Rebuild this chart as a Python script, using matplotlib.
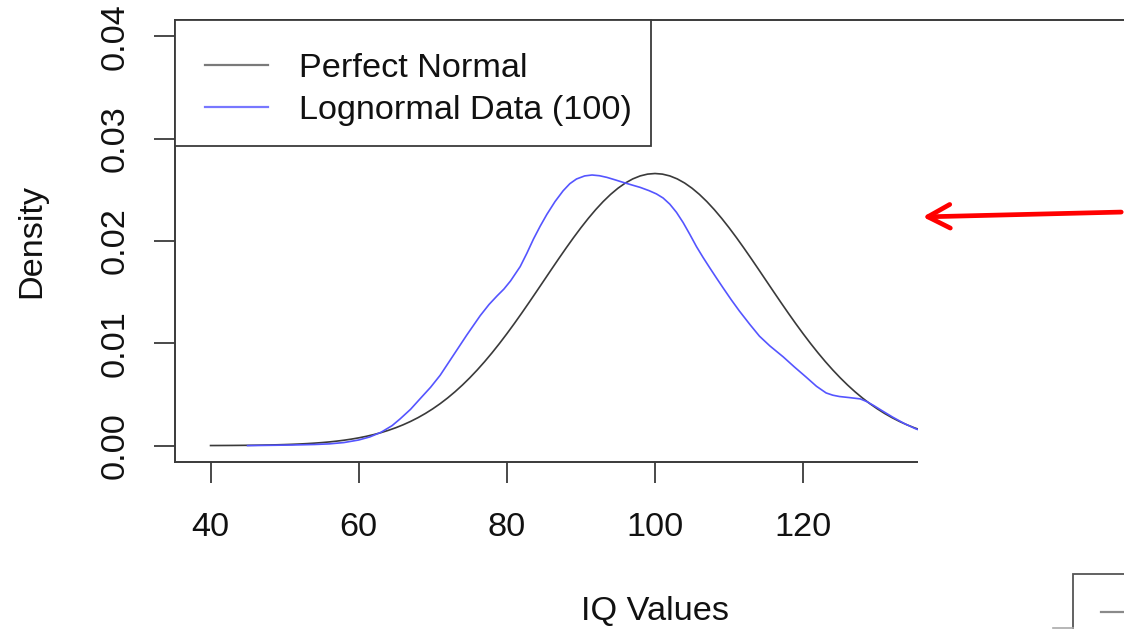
import matplotlib
matplotlib.use("Agg")
import matplotlib.pyplot as plt
from matplotlib.patches import Rectangle, FancyArrowPatch
from matplotlib.lines import Line2D

plt.rcParams['font.family'] = ['Liberation Sans', 'DejaVu Sans']

# Theoretical normal density (mean 100, sd 15): x = 40..160 in steps of 1.
# Left half tabulated (40..100); the right half mirrors it.
normal_x = list(range(40, 161))
normal_left = [
    8.92e-6, 1.162e-5, 1.508e-5, 1.947e-5, 2.503e-5, 3.200e-5, 4.080e-5,
    5.173e-5, 6.532e-5, 8.213e-5, 1.028e-4, 1.281e-4, 1.589e-4, 1.963e-4,
    2.414e-4, 2.955e-4, 3.601e-4, 4.369e-4, 5.277e-4, 6.346e-4, 7.597e-4,
    9.055e-4, 1.0742e-3, 1.2690e-3, 1.4930e-3, 1.7481e-3, 2.0381e-3,
    2.3650e-3, 2.7324e-3, 3.1427e-3, 3.5994e-3, 4.1033e-3, 4.6578e-3,
    5.2634e-3, 5.9217e-3, 6.6318e-3, 7.3948e-3, 8.2089e-3, 9.0725e-3,
    9.9819e-3, 1.09342e-2, 1.19239e-2, 1.29458e-2, 1.39934e-2, 1.50579e-2,
    1.61314e-2, 1.72060e-2, 1.82690e-2, 1.93128e-2, 2.03255e-2, 2.12966e-2,
    2.22150e-2, 2.30704e-2, 2.38523e-2, 2.45514e-2, 2.51589e-2, 2.56670e-2,
    2.60696e-2, 2.63608e-2, 2.65372e-2, 2.65962e-2]
normal_y = normal_left + normal_left[-2::-1]

# Kernel density estimate of the lognormal sample (n = 100)
lognorm_x = [45, 48, 51, 54, 56, 58, 60, 61.5, 63, 64.5, 65.6, 67, 68.3, 69.7,
             71, 72.8, 74.6, 76.4, 77.6, 78.7, 79.6, 80.5, 81.8, 82.7, 83.6,
             84.5, 85.4, 86.5, 87.6, 88.5, 89.4, 90.5, 91.5, 92.5, 93.5, 94.6,
             95.7, 97, 98, 99.2, 100.2, 101.1, 102, 102.9, 103.8, 104.7,
             105.6, 106.5, 107.4, 108.3, 109.2, 110.3, 111.4, 112.8, 114.1,
             115.5, 117.3, 118.8, 120.4, 121.8, 123.1, 124, 124.9, 126.3,
             127.7, 128.6, 129.5, 130.8, 132.1, 133.6, 135.2, 137]
lognorm_y = [0.00000, 0.00003, 0.00006, 0.00011, 0.00017, 0.00030, 0.00055,
             0.00085, 0.00130, 0.00195, 0.00262, 0.00355, 0.00459, 0.00570,
             0.00688, 0.00885, 0.01082, 0.01270, 0.01380, 0.01465, 0.01530,
             0.01610, 0.01750, 0.01880, 0.02020, 0.02145, 0.02260, 0.02385,
             0.02491, 0.02560, 0.02606, 0.02636, 0.02645, 0.02638, 0.02622,
             0.02598, 0.02573, 0.02545, 0.02524, 0.02492, 0.02460, 0.02420,
             0.02360, 0.02280, 0.02180, 0.02065, 0.01945, 0.01838, 0.01737,
             0.01638, 0.01541, 0.01425, 0.01315, 0.01185, 0.01070, 0.00975,
             0.00868, 0.00770, 0.00670, 0.00580, 0.00515, 0.00493, 0.00480,
             0.00469, 0.00457, 0.00430, 0.00393, 0.00335, 0.00278, 0.00218,
             0.00164, 0.00120]

x_ticks = [40, 60, 80, 100, 120]
y_ticks = [0.00, 0.01, 0.02, 0.03, 0.04]
legend_labels = ["Perfect Normal", "Lognormal Data (100)"]

W, H = 1124, 629
FS = 24.7
frame_col = '#3a3a3a'

fig = plt.figure(figsize=(W / 100, H / 100), dpi=100)
ax = fig.add_axes([175 / W, 1 - 462 / H, 960 / W, 442 / H])

ax.plot(normal_x, normal_y, color='#3a3a3a', lw=1.2)
ax.plot(lognorm_x, lognorm_y, color='#5555ff', lw=1.2)

ax.set_xlim(35.2, 164.8)
ax.set_ylim(-0.0016, 0.0416)
ax.set_xticks(x_ticks)
ax.set_xticklabels([str(v) for v in x_ticks])
ax.set_yticks(y_ticks)
ax.set_yticklabels([f"{v:.2f}" for v in y_ticks], rotation=90, va='center')

for s in ax.spines.values():
    s.set_color(frame_col)
    s.set_linewidth(1.4)
ax.tick_params(direction='out', length=15, width=1.3, color=frame_col,
               labelsize=FS, labelcolor='#111111')
ax.tick_params(axis='x', pad=21)
ax.tick_params(axis='y', pad=17)

ax.set_xlabel("IQ Values", fontsize=FS, color='#111111')
ax.xaxis.set_label_coords(0.5, (462 - 611) / 442)
ax.xaxis.label.set_va('center')
ax.set_ylabel("Density", fontsize=FS, color='#111111')
ax.yaxis.set_label_coords((32 - 175) / 960, 0.5)
ax.yaxis.label.set_va('center')

# Legend box in the top-left corner
ax.add_patch(Rectangle((0, (462 - 146) / 442), (651 - 175) / 960,
                       1 - (462 - 146) / 442, transform=ax.transAxes,
                       facecolor='white', edgecolor=frame_col, lw=1.3,
                       zorder=4, clip_on=False))
handles = [Line2D([], [], color='#7a7a7a', lw=1.6),
           Line2D([], [], color='#7777ff', lw=1.6)]
leg = ax.legend(handles, legend_labels, loc='upper left',
                bbox_to_anchor=(30 / 960, (462 - 53) / 442),
                frameon=False, fontsize=FS, borderpad=0, borderaxespad=0,
                handlelength=1.85, handletextpad=0.88, labelspacing=0.32)
leg.set_zorder(5)
for t in leg.get_texts():
    t.set_color('#111111')

# White panel covering the right-hand part of the plot
fig.add_artist(Rectangle((918 / W, 0), 1 - 918 / W, 1 - 24 / H,
                         transform=fig.transFigure, facecolor='white',
                         edgecolor='none', zorder=10))

# Red pointer arrow
fig.add_artist(FancyArrowPatch((1.0, 1 - 212 / H), (920 / W, 1 - 217 / H),
                               transform=fig.transFigure,
                               arrowstyle='->,head_length=16,head_width=8.5',
                               mutation_scale=1, color='#ff0000', lw=3.4,
                               zorder=11))

# Partial box at the lower right
fig.add_artist(Rectangle((1073 / W, -0.05), 0.1, 0.05 + 1 - 574 / H,
                         transform=fig.transFigure, facecolor='white',
                         edgecolor='#555555', lw=1.3, zorder=11))
fig.add_artist(Line2D([1101 / W, 1.0], [1 - 612 / H, 1 - 612 / H],
                      transform=fig.transFigure, color='#8a8a8a', lw=1.6,
                      zorder=12))
fig.add_artist(Line2D([1053 / W, 1073 / W], [1 - 628 / H, 1 - 628 / H],
                      transform=fig.transFigure, color='#aaaaaa', lw=1.2,
                      zorder=12))

fig.savefig("out.png", dpi=100, facecolor='white')
